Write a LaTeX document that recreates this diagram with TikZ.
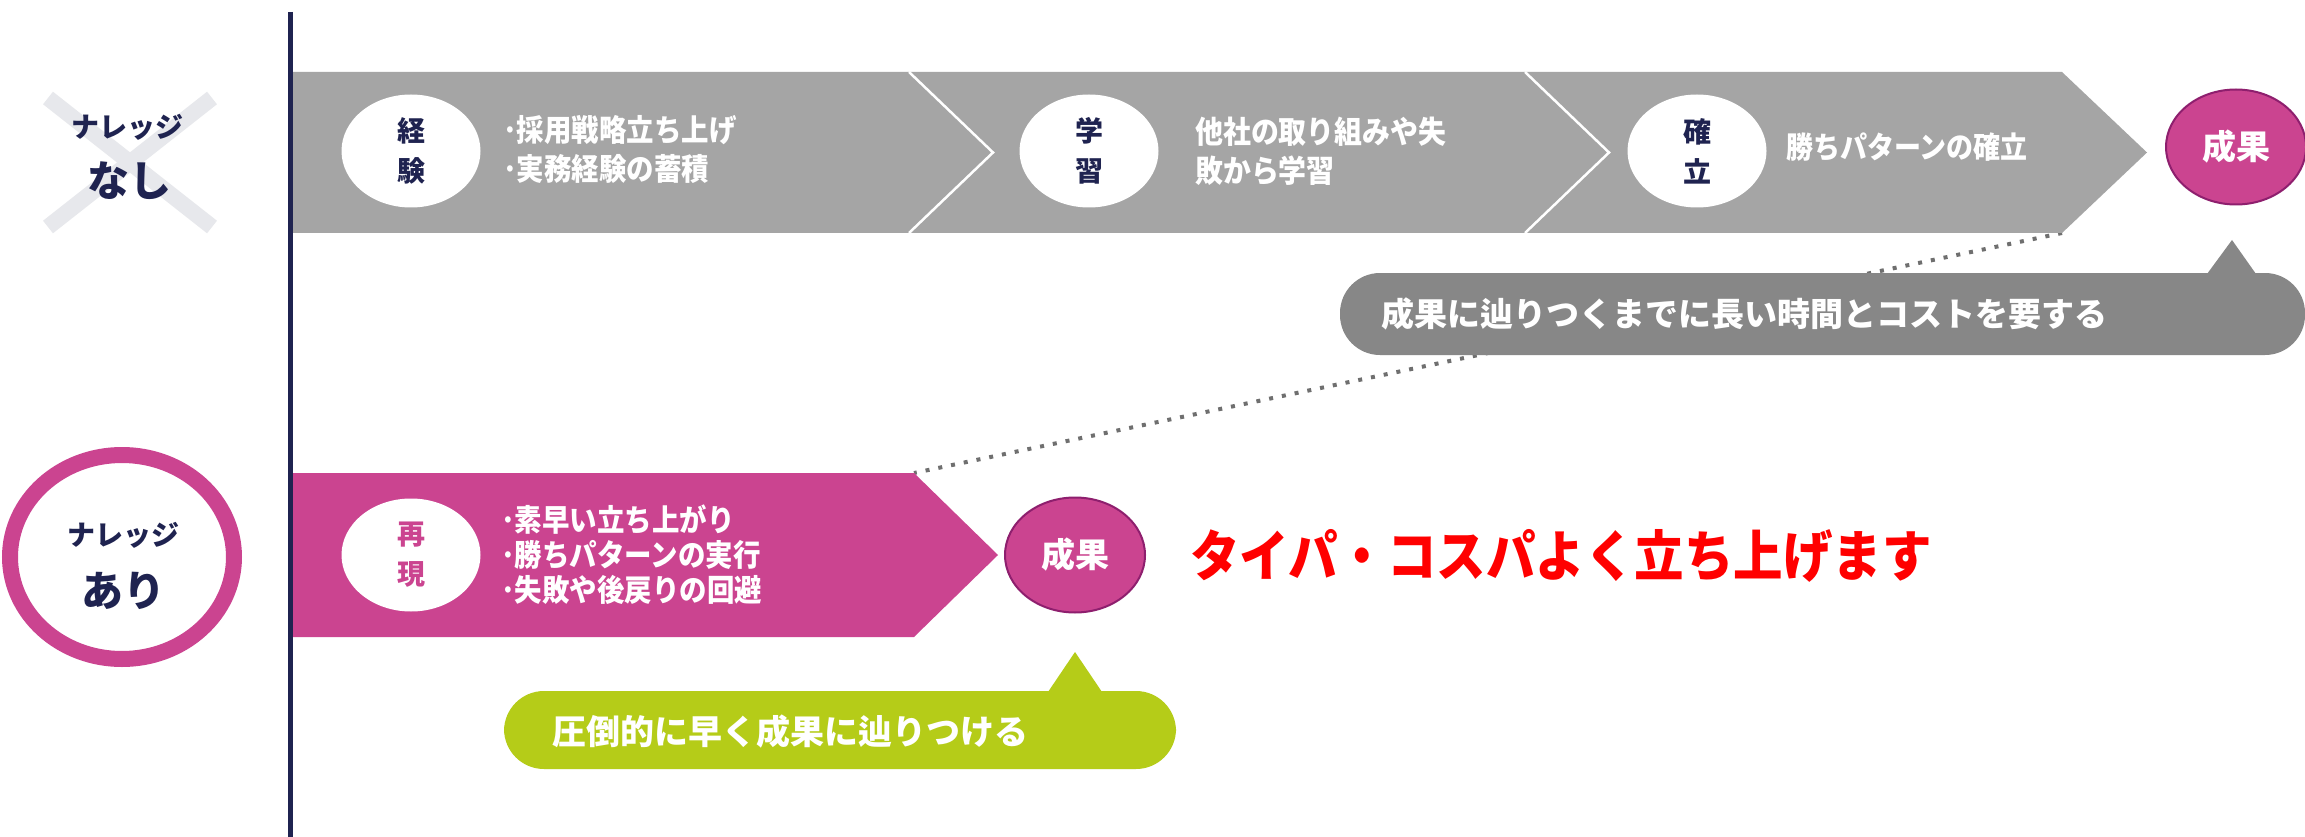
\documentclass[tikz,border=0pt]{standalone}
\usepackage{fontspec}
\newfontfamily\jp{Noto Sans CJK JP}
\newfontfamily\jpc{Noto Sans CJK JP}[FakeStretch=0.9]
\usetikzlibrary{shapes.geometric}
\definecolor{navy}{HTML}{1F2350}
\definecolor{bandgray}{HTML}{A5A5A5}
\definecolor{callgray}{HTML}{878787}
\definecolor{mag}{HTML}{CB4490}
\definecolor{magdark}{HTML}{8E1F6E}
\definecolor{lime}{HTML}{B5CC18}
\definecolor{xgray}{HTML}{E7E8EC}
\definecolor{dotgray}{HTML}{6F6F6F}
\definecolor{redtxt}{HTML}{FF0000}
\tikzset{
  stepcirc/.style={ellipse, fill=white, minimum width=139pt, minimum height=113pt, inner sep=0pt,
    font=\jp\bfseries\fontsize{28}{40}\selectfont, align=center, text=navy},
  bullets/.style={anchor=west, text=white, inner sep=0pt, align=left},
  goal/.style={ellipse, fill=mag, draw=magdark, line width=2pt, minimum width=140pt, minimum height=115pt,
    inner sep=0pt, text=white, font=\jp\bfseries\fontsize{34}{36}\selectfont},
  lbl/.style={text=navy, inner sep=0pt, align=center},
  calltext/.style={anchor=west, text=white, inner sep=0pt, font=\jp\bfseries\fontsize{33}{36}\selectfont},
}
\begin{document}
\begin{tikzpicture}[x=1pt,y=-1pt]
\useasboundingbox (0,0) rectangle (2305,837);
\fill[white] (0,0) rectangle (2305,837);

% left labels
\draw[xgray, line width=16pt] (48,98) -- (212,227);
\draw[xgray, line width=16pt] (212,98) -- (48,227);
\node[lbl, font=\jp\bfseries\fontsize{28}{30}\selectfont] (nl1) at (127,127) {ナレッジ};
\node[lbl, font=\jp\bfseries\fontsize{42}{44}\selectfont] (nashi) at (129,181) {なし};

\draw[mag, line width=16pt] (122,557) ellipse [x radius=112, y radius=102];
\node[lbl, font=\jp\bfseries\fontsize{28}{30}\selectfont] (nl2) at (123,535) {ナレッジ};
\node[lbl, font=\jp\bfseries\fontsize{42}{44}\selectfont] (ari) at (123,591) {あり};

% vertical axis
\draw[navy, line width=5pt] (290.5,12) -- (290.5,837);

% dotted connector (behind callout)
\coordinate (gcorner) at (2062,233);
\coordinate (mcorner) at (914,473);
\draw[dotgray, line width=4pt, dash pattern=on 4pt off 9pt] (gcorner) -- (mcorner);

% top gray band
\fill[bandgray] (293,72) -- (2062,72) -- (2147,152.5) -- (2062,233) -- (293,233) -- cycle;
\draw[white, line width=2.5pt] (909,72) -- (993,152.5) -- (909,233);
\draw[white, line width=2.5pt] (1525,72) -- (1609,152.5) -- (1525,233);

\node[stepcirc] (keiken) at (411,151) {経\\験};
\node[bullets, font=\jpc\bfseries\fontsize{30.5}{39}\selectfont] (t1) at (503,149) {･採用戦略立ち上げ\\･実務経験の蓄積};
\node[stepcirc] (gakushu) at (1089,151) {学\\習};
\node[bullets, font=\jpc\bfseries\fontsize{31}{39}\selectfont] (t2) at (1195,151) {他社の取り組みや失\\敗から学習};
\node[stepcirc] (kakuritsu) at (1697,151) {確\\立};
\node[bullets, font=\jpc\bfseries\fontsize{30}{30}\selectfont] (t3) at (1786,147) {勝ちパターンの確立};
\node[goal] (seika1) at (2236,147) {成果};

% gray callout
\fill[callgray, rounded corners=40pt] (1340,273) rectangle (2305,355);
\fill[callgray] (2207,274) -- (2232,240) -- (2256,274) -- cycle;
\node[calltext] (msg1) at (1381,314) {成果に辿りつくまでに長い時間とコストを要する};

% magenta band
\fill[mag] (293,473) -- (914,473) -- (998,555) -- (914,637) -- (293,637) -- cycle;
\node[stepcirc, text=mag] (saigen) at (411,555) {再\\現};
\node[bullets, font=\jpc\bfseries\fontsize{30.5}{35}\selectfont] (t4) at (501,555) {･素早い立ち上がり\\･勝ちパターンの実行\\･失敗や後戻りの回避};
\node[goal] (seika2) at (1075,555) {成果};

% red headline
\node[anchor=west, inner sep=0pt, text=redtxt, font=\jpc\bfseries\fontsize{55}{58}\selectfont] (head) at (1190,556) {タイパ・コスパよく立ち上げます};

% green callout
\fill[lime, rounded corners=40pt] (504,691) rectangle (1176,769);
\fill[lime] (1048,692) -- (1075,652) -- (1102,692) -- cycle;
\node[calltext, font=\jp\bfseries\fontsize{34}{36}\selectfont] (msg2) at (552,732) {圧倒的に早く成果に辿りつける};
\end{tikzpicture}
\end{document}
